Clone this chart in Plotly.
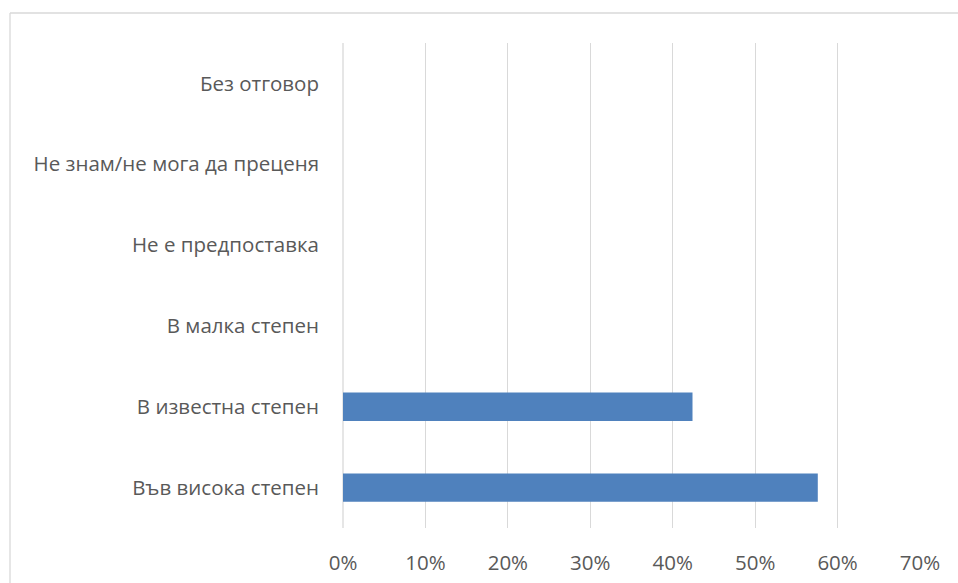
import plotly.graph_objects as go

categories = [
    "Във висока степен",
    "В известна степен",
    "В малка степен",
    "Не е предпоставка",
    "Не знам/не мога да преценя",
    "Без отговор",
]
values = [0.576, 0.424, 0.0, 0.0, 0.0, 0.0]
tick_vals = [0, 0.1, 0.2, 0.3, 0.4, 0.5, 0.6, 0.7]
tick_text = ["0%", "10%", "20%", "30%", "40%", "50%", "60%", "70%"]

W, H = 958, 583
L, R, T, B = 343, 38, 43, 55
pw, ph = W - L - R, H - T - B

fig = go.Figure(
    go.Bar(
        y=categories,
        x=values,
        orientation="h",
        marker=dict(color="#4F81BD", line=dict(width=0)),
        hoverinfo="x+y",
    )
)

font_family = "Open Sans, Liberation Sans, sans-serif"
FS = 20.5
bx0 = (10 - L) / pw
by1 = 1 + (T - 13) / ph
fig.update_layout(
    width=W,
    height=H,
    margin=dict(l=L, r=R, t=T, b=B, pad=0),
    paper_bgcolor="white",
    plot_bgcolor="white",
    bargap=0.65,
    showlegend=False,
    font=dict(family=font_family, size=FS, color="#595959"),
    xaxis=dict(
        range=[0, 0.7],
        tickvals=tick_vals,
        ticktext=tick_text,
        showgrid=True,
        gridcolor="#D9D9D9",
        gridwidth=1.3,
        zeroline=False,
        showline=False,
        ticks="",
        ticklabelstandoff=20,
        automargin=False,
        tickfont=dict(size=FS, color="#595959"),
    ),
    yaxis=dict(
        categoryorder="array",
        categoryarray=categories,
        showgrid=False,
        zeroline=False,
        showline=False,
        ticks="",
        ticklabelstandoff=23,
        automargin=False,
        tickfont=dict(size=FS, color="#595959"),
    ),
    shapes=[
        dict(
            type="line", xref="paper", yref="paper",
            x0=0, x1=0, y0=0, y1=1,
            line=dict(color="#D9D9D9", width=1.3),
            layer="below",
        ),
        # outer chart border: top and left edges (right/bottom lie outside the picture)
        dict(
            type="line", xref="paper", yref="paper",
            x0=bx0, x1=1.2, y0=by1, y1=by1,
            line=dict(color="#D9D9D9", width=1.3),
            layer="below",
        ),
        dict(
            type="line", xref="paper", yref="paper",
            x0=bx0, x1=bx0, y0=-0.3, y1=by1,
            line=dict(color="#D9D9D9", width=1.3),
            layer="below",
        ),
    ],
)

fig.write_html(
    "out.html",
    config={"displayModeBar": False},
    post_script="document.body.style.margin='0';document.body.style.overflow='hidden';",
)
